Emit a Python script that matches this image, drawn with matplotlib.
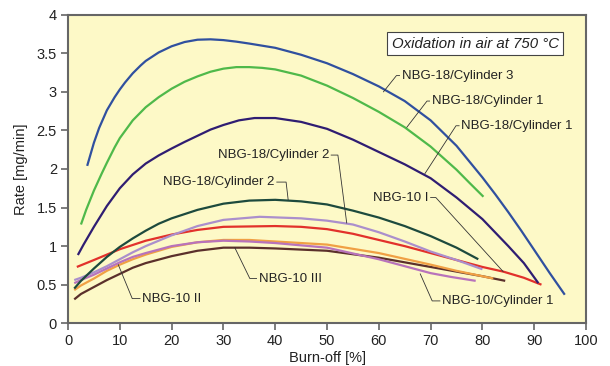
import matplotlib
matplotlib.use("Agg")
import matplotlib.pyplot as plt

plt.rcParams['font.family'] = ['Liberation Sans', 'DejaVu Sans']

# curves: burn-off [%] vs rate [mg/min]
blue_x = [3.7, 5, 6, 7.5, 9, 10, 11, 12.5, 14, 15, 17.5, 20, 22.5, 25, 27.5, 30, 32.5, 35, 40, 45, 50,
          55, 60, 65, 70, 75, 80, 82.5, 85, 87.5, 90, 93, 95.9]
blue_y = [2.04, 2.34, 2.53, 2.76, 2.93, 3.03, 3.12, 3.24, 3.34, 3.40, 3.51, 3.59, 3.645, 3.675, 3.68, 3.67, 3.65, 3.625, 3.57, 3.48, 3.37,
          3.23, 3.07, 2.88, 2.63, 2.30, 1.89, 1.67, 1.44, 1.20, 0.95, 0.65, 0.37]

green_x = [2.5, 3.5, 5, 6.5, 7.5, 9, 10, 12.5, 15, 17.5, 20, 22.5, 25, 27.5, 30, 32.5, 35, 37.5, 40, 45,
           50, 55, 60, 65, 70, 75, 77.5, 80.2]
green_y = [1.28, 1.47, 1.72, 1.94, 2.08, 2.28, 2.40, 2.63, 2.80, 2.93, 3.04, 3.13, 3.20, 3.26, 3.30, 3.32, 3.32, 3.31, 3.29, 3.21,
           3.08, 2.92, 2.74, 2.54, 2.29, 1.99, 1.82, 1.64]

navy_x = [1.9, 3, 5, 7.5, 10, 12.5, 15, 17.5, 20, 22.5, 25, 27.5, 30, 33, 36, 40, 45, 50, 55, 60, 65,
          70, 75, 80, 85, 88, 90.8]
navy_y = [0.885, 1.02, 1.25, 1.52, 1.75, 1.93, 2.07, 2.175, 2.265, 2.35, 2.43, 2.51, 2.57, 2.63, 2.66, 2.66, 2.61, 2.52, 2.38, 2.22, 2.06,
          1.88, 1.63, 1.35, 1.00, 0.78, 0.52]

dkgreen_x = [1.2, 2.5, 5, 7.5, 10, 12.5, 15, 17.5, 20, 25, 30, 35, 40, 45, 50, 55, 60, 65, 70, 75, 79.2]
dkgreen_y = [0.45, 0.55, 0.71, 0.86, 0.99, 1.10, 1.20, 1.29, 1.36, 1.47, 1.55, 1.59, 1.60, 1.58, 1.54, 1.46, 1.37, 1.26, 1.13, 0.98, 0.83]

lav_x = [1.2, 2.5, 5, 7.5, 10, 12.5, 15, 20, 25, 30, 37, 45, 50, 55, 60, 65, 70, 75, 80]
lav_y = [0.56, 0.59, 0.66, 0.74, 0.83, 0.92, 1.00, 1.14, 1.26, 1.34, 1.38, 1.36, 1.33, 1.28, 1.18, 1.06, 0.93, 0.82, 0.70]

red_x = [1.7, 5, 10, 15, 20, 25, 30, 40, 45, 50, 55, 60, 65, 70, 75, 80, 84, 88, 91.4]
red_y = [0.73, 0.82, 0.96, 1.07, 1.15, 1.21, 1.25, 1.26, 1.25, 1.22, 1.16, 1.08, 1.00, 0.91, 0.82, 0.73, 0.67, 0.59, 0.50]

orange_x = [1.2, 2.5, 5, 7.5, 10, 12.5, 15, 20, 25, 30, 35, 40, 50, 60, 70, 75, 82.1]
orange_y = [0.43, 0.49, 0.58, 0.68, 0.76, 0.83, 0.89, 0.99, 1.05, 1.08, 1.08, 1.06, 1.02, 0.91, 0.76, 0.68, 0.58]

pink_x = [1.2, 2.5, 5, 7.5, 10, 12.5, 15, 20, 25, 30, 35, 40, 50, 60, 65, 70, 74, 78.7]
pink_y = [0.52, 0.56, 0.63, 0.71, 0.79, 0.86, 0.91, 1.00, 1.05, 1.07, 1.06, 1.04, 0.98, 0.83, 0.74, 0.65, 0.60, 0.55]

brown_x = [1.2, 2.5, 5, 7.5, 10, 12.5, 15, 20, 25, 30, 35, 40, 50, 60, 70, 80, 84.4]
brown_y = [0.31, 0.38, 0.47, 0.56, 0.64, 0.72, 0.78, 0.87, 0.94, 0.98, 0.98, 0.97, 0.94, 0.85, 0.73, 0.61, 0.55]

series = [
    (brown_x, brown_y, '#5b302b'),
    (orange_x, orange_y, '#f0a044'),
    (pink_x, pink_y, '#b873bb'),
    (red_x, red_y, '#e2312b'),
    (lav_x, lav_y, '#ab8fcc'),
    (dkgreen_x, dkgreen_y, '#1d4a3d'),
    (navy_x, navy_y, '#2f1d72'),
    (green_x, green_y, '#4fb94a'),
    (blue_x, blue_y, '#30509f'),
]

# labels: text, text pos, ha, elbow x, curve point
labels = [
    ("NBG-18/Cylinder 3", (64.4, 3.21), 'left', 63.4, (60.9, 3.00)),
    ("NBG-18/Cylinder 1", (70.2, 2.88), 'left', 69.3, (65.4, 2.54)),
    ("NBG-18/Cylinder 1", (75.9, 2.56), 'left', 74.9, (68.9, 1.94)),
    ("NBG-18/Cylinder 2", (50.4, 2.18), 'right', 52.1, (53.8, 1.30)),
    ("NBG-18/Cylinder 2", (39.9, 1.83), 'right', 42.1, (42.5, 1.60)),
    ("NBG-10 I", (69.6, 1.63), 'right', 71.0, (84.0, 0.67)),
    ("NBG-10 II", (14.3, 0.32), 'left', 12.4, (9.7, 0.76)),
    ("NBG-10 III", (36.8, 0.58), 'left', 35.1, (32.2, 0.98)),
    ("NBG-10/Cylinder 1", (72.2, 0.29), 'left', 70.3, (68.0, 0.64)),
]

fig = plt.figure(figsize=(6.1, 3.66), dpi=100)
ax = fig.add_axes([0.1115, 0.1167, 0.8492, 0.8433])
ax.set_facecolor('#fdf9c7')

for xs, ys, c in series:
    ax.plot(xs, ys, color=c, lw=1.6, solid_capstyle='butt', solid_joinstyle='round')

for txt, (tx, ty), ha, ex, (cx, cy) in labels:
    ax.plot([tx + (-0.4 if ha == 'left' else 0.4), ex, cx], [ty, ty, cy],
            color='#333333', lw=0.6)
    ax.text(tx, ty, txt, ha=ha, va='center', fontsize=9.5, color='#222222')

ax.text(78.6, 3.62, "Oxidation in air at 750 °C", ha='center', va='center',
        fontsize=10.8, style='italic', color='#222222',
        bbox=dict(boxstyle='square,pad=0.3', fc='white', ec='#444444', lw=0.8))

ax.set_xlim(0, 100)
ax.set_ylim(0, 4)
ax.set_xticks(range(0, 101, 10))
ax.set_yticks([0, 0.5, 1, 1.5, 2, 2.5, 3, 3.5, 4])
ax.set_yticklabels(['0', '0.5', '1', '1.5', '2', '2.5', '3', '3.5', '4'])
ax.tick_params(direction='out', length=5, width=1.2, color='#666666',
               labelsize=10.5, labelcolor='#222222', pad=3)
for s in ax.spines.values():
    s.set_color('#666666')
    s.set_linewidth(1.5)

ax.set_xlabel("Burn-off [%]", fontsize=10.5, color='#222222', labelpad=2)
ax.set_ylabel("Rate [mg/min]", fontsize=10.5, color='#222222', labelpad=6)

fig.savefig("out.png", dpi=100)
